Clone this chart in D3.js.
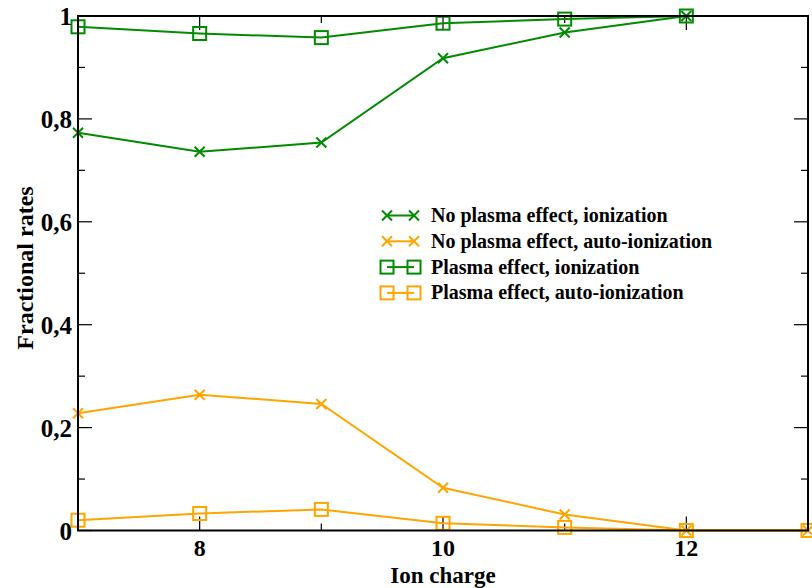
<!DOCTYPE html>
<html><head><meta charset="utf-8">
<script src="https://cdn.jsdelivr.net/npm/d3@7"></script>
<style>body{margin:0;background:#fff}svg{display:block}</style>
</head><body>
<script>
const ionCharge = [7, 8, 9, 10, 11, 12, 13];
const noPlasmaIon = [0.773, 0.736, 0.754, 0.918, 0.968, 1.0];
const noPlasmaAuto = [0.228, 0.264, 0.246, 0.083, 0.031, 0.0, 0.0];
const plasmaIon = [0.979, 0.966, 0.958, 0.986, 0.994, 1.0];
const plasmaAuto = [0.020, 0.033, 0.041, 0.014, 0.006, 0.0, 0.0];
const seriesNames = ["No plasma effect, ionization","No plasma effect, auto-ionization","Plasma effect, ionization","Plasma effect, auto-ionization"];
const xTicks = [8, 10, 12];
const yTicks = [0, 0.2, 0.4, 0.6, 0.8, 1];
const yTickLabels = ["0","0,2","0,4","0,6","0,8","1"];

const W = 812, H = 588;
const m = {l: 78, r: 4, t: 16, b: 57.5};
const GREEN = "#008b00", ORANGE = "#ffa500";
const svg = d3.select("body").append("svg").attr("width", W).attr("height", H);
const x = d3.scaleLinear().domain([7, 13]).range([m.l, W - m.r]);
const y = d3.scaleLinear().domain([0, 1]).range([H - m.b, m.t]);
const font = "'Liberation Serif','Times New Roman',serif";

const series = [
  {name: seriesNames[0], vals: noPlasmaIon, color: GREEN, sym: "x"},
  {name: seriesNames[1], vals: noPlasmaAuto, color: ORANGE, sym: "x"},
  {name: seriesNames[2], vals: plasmaIon, color: GREEN, sym: "sq"},
  {name: seriesNames[3], vals: plasmaAuto, color: ORANGE, sym: "sq"}
];

function drawSym(g, sym, cx, cy, color) {
  if (sym === "x") {
    const s = 5;
    g.append("path").attr("d", `M${cx-s},${cy-s}L${cx+s},${cy+s}M${cx-s},${cy+s}L${cx+s},${cy-s}`)
      .attr("stroke", color).attr("stroke-width", 2).attr("fill", "none");
  } else {
    const s = 6.5;
    g.append("rect").attr("x", cx - s).attr("y", cy - s).attr("width", 2*s).attr("height", 2*s)
      .attr("stroke", color).attr("stroke-width", 2).attr("fill", "none");
  }
}

// ticks (inside, mirrored)
const axG = svg.append("g").attr("stroke", "#000");
d3.range(7, 13.01, 1).forEach(v => {
  const major = v % 2 === 0;
  const len = major ? 14 : 7;
  axG.append("line").attr("x1", x(v)).attr("x2", x(v)).attr("y1", y(0)).attr("y2", y(0) - len).attr("stroke-width", 1.2);
  axG.append("line").attr("x1", x(v)).attr("x2", x(v)).attr("y1", y(1)).attr("y2", y(1) + len).attr("stroke-width", 1.2);
});
d3.range(0, 10.01, 1).forEach(i => {
  const v = i / 10;
  const major = i % 2 === 0;
  const len = major ? 14 : 7;
  axG.append("line").attr("x1", x(7)).attr("x2", x(7) + len).attr("y1", y(v)).attr("y2", y(v)).attr("stroke-width", 1.2);
  axG.append("line").attr("x1", x(13)).attr("x2", x(13) - len).attr("y1", y(v)).attr("y2", y(v)).attr("stroke-width", 1.2);
});

// series
const line = d3.line().x((d, i) => x(ionCharge[i])).y(d => y(d));
series.forEach(s => {
  svg.append("path").datum(s.vals).attr("d", line).attr("fill", "none")
    .attr("stroke", s.color).attr("stroke-width", 2);
  const g = svg.append("g");
  s.vals.forEach((v, i) => drawSym(g, s.sym, x(ionCharge[i]), y(v), s.color));
});

// frame
svg.append("rect").attr("x", x(7)).attr("y", y(1)).attr("width", x(13) - x(7)).attr("height", y(0) - y(1))
  .attr("fill", "none").attr("stroke", "#000").attr("stroke-width", 2);

// tick labels
svg.append("g").selectAll("text").data(xTicks).join("text")
  .attr("x", d => x(d)).attr("y", 556).attr("text-anchor", "middle")
  .attr("font-family", font).attr("font-weight", "bold").attr("font-size", 24).text(d => d);
svg.append("g").selectAll("text").data(yTicks).join("text")
  .attr("x", x(7) - 6).attr("y", d => y(d) + 9).attr("text-anchor", "end")
  .attr("font-family", font).attr("font-weight", "bold").attr("font-size", 25).text((d, i) => yTickLabels[i]);

// axis titles
svg.append("text").attr("x", 443).attr("y", 583).attr("text-anchor", "middle")
  .attr("font-family", font).attr("font-weight", "bold").attr("font-size", 23).text("Ion charge");
svg.append("text").attr("transform", `translate(33,268) rotate(-90)`).attr("text-anchor", "middle")
  .attr("font-family", font).attr("font-weight", "bold").attr("font-size", 24).text("Fractional rates");

// legend
const lg = svg.append("g");
series.forEach((s, i) => {
  const cy = 215.5 + i * 25.8;
  lg.append("line").attr("x1", 387).attr("x2", 414).attr("y1", cy).attr("y2", cy).attr("stroke", s.color).attr("stroke-width", 2);
  drawSym(lg, s.sym, 387, cy, s.color);
  drawSym(lg, s.sym, 414, cy, s.color);
  lg.append("text").attr("x", 431).attr("y", cy + 6.5).attr("font-family", font).attr("font-weight", "bold")
    .attr("font-size", 20).text(s.name);
});
</script>
</body></html>
